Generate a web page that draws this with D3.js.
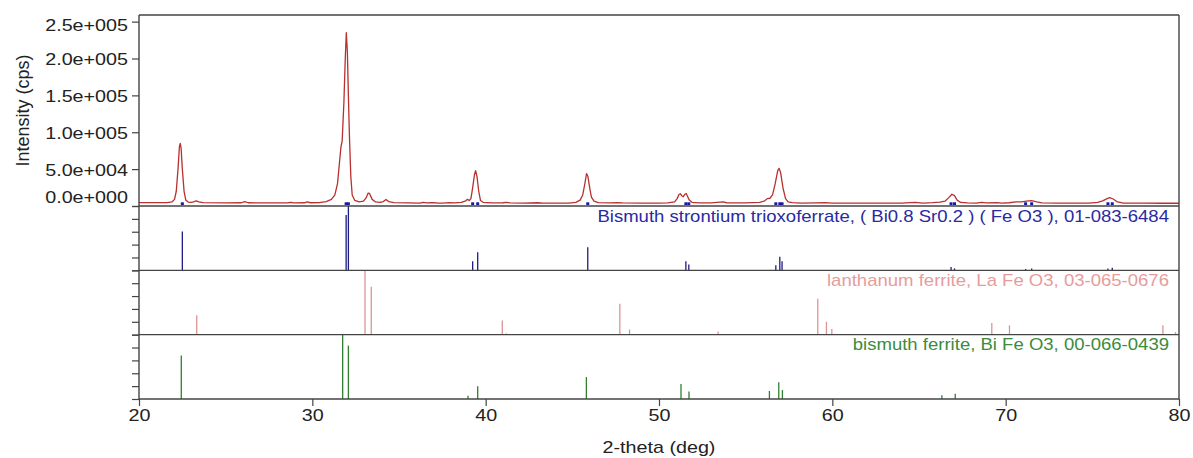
<!DOCTYPE html>
<html>
<head>
<meta charset="utf-8">
<script src="https://cdn.jsdelivr.net/npm/d3@7"></script>
<style>
  html, body { margin: 0; padding: 0; background: #fff; }
  svg { display: block; font-family: "Liberation Sans", Arial, sans-serif; }
</style>
</head>
<body>
<svg id="chart" width="1193" height="458"></svg>
<script>
// Measured XRD pattern: [2-theta (deg), intensity (cps)]
const pattern = [
  [20.0, 4600], [21.0, 4500], [21.6, 4600], [21.9, 5500], [22.05, 9000], [22.15, 20000],
  [22.25, 50000], [22.33, 80000], [22.38, 85000], [22.43, 78000], [22.5, 50000], [22.6, 20000],
  [22.7, 8000], [22.85, 5200], [23.0, 4800], [23.15, 5600], [23.3, 7000], [23.45, 5600],
  [23.7, 4500], [25.0, 4300], [25.9, 4400], [26.1, 6000], [26.3, 4400], [28.0, 4200],
  [28.55, 4300], [28.75, 5000], [28.95, 4300], [29.55, 4400], [29.7, 5500], [29.9, 4400],
  [30.4, 4600], [30.8, 6000], [31.1, 9000], [31.3, 15000], [31.45, 30000], [31.55, 55000],
  [31.65, 80000], [31.72, 88000], [31.82, 140000], [31.9, 200000], [31.96, 235000],
  [32.02, 210000], [32.08, 150000], [32.14, 95000], [32.22, 40000], [32.3, 15000],
  [32.45, 7500], [32.7, 5500], [32.95, 6500], [33.1, 11000], [33.22, 17500], [33.3, 17000],
  [33.45, 9000], [33.65, 5500], [33.9, 5000], [34.1, 6000], [34.25, 8800], [34.4, 6000],
  [34.7, 4600], [35.5, 4300], [36.2, 4000], [36.4, 4900], [36.6, 4200], [36.9, 4700],
  [37.2, 4100], [37.5, 4000], [37.9, 4600], [38.2, 4100], [38.6, 4800], [38.85, 7000],
  [38.95, 9000], [39.05, 7500], [39.15, 10000], [39.25, 25000], [39.35, 42000],
  [39.42, 48000], [39.5, 40000], [39.6, 20000], [39.7, 7500], [39.85, 5000], [40.3, 4300],
  [41.0, 4400], [41.2, 5000], [41.4, 4300], [42.2, 4000], [43.0, 4400], [43.3, 4000],
  [44.0, 3900], [44.8, 4000], [45.2, 5000], [45.45, 8000], [45.6, 15000], [45.72, 30000],
  [45.82, 44000], [45.9, 40000], [46.0, 25000], [46.1, 12000], [46.25, 6500], [46.5, 4500],
  [47.2, 4200], [47.6, 4700], [47.9, 4300], [49.0, 4000], [50.0, 4000], [50.5, 4200],
  [50.9, 5500], [51.05, 10000], [51.15, 15500], [51.23, 16700], [51.33, 13500],
  [51.4, 12600], [51.5, 16000], [51.57, 17000], [51.65, 13000], [51.75, 8000], [51.9, 5000],
  [52.3, 4300], [53.0, 4200], [53.7, 5500], [53.9, 4400], [55.0, 4200], [55.8, 4800],
  [56.1, 7000], [56.25, 10000], [56.4, 10500], [56.55, 15000], [56.7, 30000], [56.85, 48000],
  [56.93, 51000], [57.02, 45000], [57.15, 25000], [57.3, 10000], [57.45, 5500], [57.7, 4500],
  [58.2, 4000], [59.0, 4200], [59.6, 4600], [60.0, 4000], [61.0, 3900], [62.0, 4000],
  [63.0, 3900], [64.0, 3800], [64.5, 4600], [64.8, 4800], [65.2, 4000], [65.8, 4500],
  [66.2, 5200], [66.5, 6500], [66.7, 11000], [66.9, 15900], [67.05, 14000], [67.2, 8000],
  [67.4, 4800], [67.8, 4200], [68.3, 4000], [68.6, 5000], [68.9, 4300], [69.5, 4600],
  [69.8, 4000], [70.2, 4400], [70.6, 5500], [70.9, 5600], [71.2, 6500], [71.5, 7200],
  [71.8, 5600], [72.1, 4200], [73.0, 3900], [74.0, 3800], [74.8, 4000], [75.3, 5000],
  [75.6, 7000], [75.85, 10000], [76.0, 11300], [76.2, 9500], [76.45, 5500], [76.8, 4000],
  [78.0, 3800], [79.0, 3700], [79.5, 4000], [80.0, 3700]
];

// Reference card sticks: [2-theta (deg), relative intensity (%)]
const bismuthStrontiumSticks = [
  [22.5, 60.5], [31.95, 86], [32.08, 100], [39.25, 14.3], [39.54, 28], [45.89, 36],
  [51.55, 14], [51.72, 9], [56.74, 8], [56.97, 21], [57.1, 14], [66.85, 5], [67.05, 3],
  [71.15, 2], [71.5, 3], [75.9, 3], [76.15, 4]
];
const lanthanumSticks = [
  [23.33, 30], [33.04, 100], [33.4, 74.5], [40.96, 22], [41.2, 2], [47.74, 48], [48.3, 8],
  [53.41, 5], [59.16, 56], [59.66, 20], [59.97, 9], [69.2, 18], [70.22, 14.5], [79.07, 14.5],
  [79.8, 4]
];
const bismuthFerriteSticks = [
  [22.44, 67.7], [31.75, 100], [32.08, 83], [38.98, 5], [39.54, 20], [45.81, 34],
  [51.27, 23.5], [51.73, 11.5], [56.37, 12.5], [56.91, 26], [57.12, 14], [66.32, 6], [67.09, 8]
];

const phaseLabels = [
  "Bismuth strontium trioxoferrate, ( Bi0.8 Sr0.2 ) ( Fe O3 ), 01-083-6484",
  "lanthanum ferrite, La Fe O3, 03-065-0676",
  "bismuth ferrite, Bi Fe O3, 00-066-0439"
];

const xTicks = [20, 30, 40, 50, 60, 70, 80];
const yTicks = [0, 50000, 100000, 150000, 200000, 250000];
const stickTicks = [0, 20, 40, 60, 80, 100];

const xTitle = "2-theta (deg)";
const yTitle = "Intensity (cps)";

(function draw() {
  const svg = d3.select("#chart");
  const plotLeft = 139, plotRight = 1179, plotTop = 15, mainBottom = 206, plotBottom = 399;
  const panelH = (plotBottom - mainBottom) / 3;
  const frameColor = "#444";
  const textColor = "#222";
  const fontSize = 17;
  const axisStretch = 1.16;
  const labelStretch = 1.09;

  const x = d3.scaleLinear().domain([20, 80]).range([plotLeft, plotRight]);
  const y = d3.scaleLinear().domain([0, 259000]).range([mainBottom, plotTop]);

  // widen glyphs horizontally to the chart's typeface proportions
  function stretch(sel, k) {
    sel.each(function () {
      const w = this.getComputedTextLength();
      d3.select(this).attr("textLength", w * k).attr("lengthAdjust", "spacingAndGlyphs");
    });
  }

  function expFormat(v) {
    const [m, e] = v.toExponential(1).split("e");
    const sign = e[0] === "-" ? "-" : "+";
    const digits = e.replace(/[+-]/, "").padStart(3, "0");
    return m + "e" + sign + digits;
  }

  svg.append("rect").attr("width", 1193).attr("height", 458).attr("fill", "#fff");

  // ---- main pattern panel ----
  const yAxis = svg.append("g")
    .attr("transform", `translate(${plotLeft},0)`)
    .call(d3.axisLeft(y).tickValues(yTicks).tickFormat(expFormat).tickSize(7).tickPadding(4));
  yAxis.select(".domain").remove();
  yAxis.selectAll(".tick line").attr("stroke", frameColor).attr("stroke-width", 1.2);
  yAxis.selectAll(".tick text")
    .attr("fill", textColor)
    .style("font-size", fontSize + "px")
    .style("font-family", "'Liberation Sans', Arial, sans-serif")
    .attr("dy", (d) => d === 0 ? "-0.23em" : (d === 250000 ? "0.55em" : "0.38em"))
    .call(stretch, axisStretch);

  const line = d3.line().x((d) => x(d[0])).y((d) => y(d[1]));
  svg.append("path")
    .datum(pattern)
    .attr("fill", "none")
    .attr("stroke", "#b8302f")
    .attr("stroke-width", 1.3)
    .attr("stroke-linejoin", "round")
    .attr("d", line);

  // phase position markers along the pattern baseline
  svg.append("g").selectAll("rect")
    .data(bismuthStrontiumSticks)
    .join("rect")
    .attr("x", (d) => x(d[0]) - 1.5)
    .attr("y", mainBottom - 3.7)
    .attr("width", 3)
    .attr("height", 2.8)
    .attr("fill", "#1a1a9c");

  // ---- stick panels ----
  const panels = [
    { sticks: bismuthStrontiumSticks, label: phaseLabels[0], stroke: "#1c1c86", text: "#2a2aa2" },
    { sticks: lanthanumSticks, label: phaseLabels[1], stroke: "#dc9494", text: "#e79c9c" },
    { sticks: bismuthFerriteSticks, label: phaseLabels[2], stroke: "#2f7f2f", text: "#3b8c3b" }
  ];

  panels.forEach((p, i) => {
    const pTop = mainBottom + i * panelH;
    const pBottom = pTop + panelH;
    const yp = d3.scaleLinear().domain([0, 100]).range([pBottom, pTop]);
    const g = svg.append("g");

    const ax = g.append("g")
      .attr("transform", `translate(${plotLeft},0)`)
      .call(d3.axisLeft(yp).tickValues(stickTicks).tickFormat("").tickSize(7));
    ax.select(".domain").remove();
    ax.selectAll(".tick line").attr("stroke", frameColor).attr("stroke-width", 1.2);

    g.selectAll("line.stick")
      .data(p.sticks)
      .join("line")
      .attr("class", "stick")
      .attr("x1", (d) => x(d[0])).attr("x2", (d) => x(d[0]))
      .attr("y1", yp(0)).attr("y2", (d) => yp(d[1]))
      .attr("stroke", p.stroke)
      .attr("stroke-width", 1.3);

    g.append("text")
      .attr("x", 1169)
      .attr("y", pTop + 15.5)
      .attr("text-anchor", "end")
      .attr("fill", p.text)
      .style("font-size", fontSize + "px")
      .text(p.label)
      .call(stretch, labelStretch);
  });

  // ---- frame and panel separators ----
  const frame = svg.append("g").attr("stroke", frameColor).attr("stroke-width", 1.4).attr("fill", "none");
  frame.append("line").attr("x1", plotLeft).attr("x2", plotRight).attr("y1", plotTop).attr("y2", plotTop);
  frame.append("line").attr("x1", plotLeft).attr("x2", plotLeft).attr("y1", plotTop).attr("y2", plotBottom);
  frame.append("line").attr("x1", plotRight).attr("x2", plotRight).attr("y1", plotTop).attr("y2", plotBottom);
  [0, 1, 2, 3].forEach((k) => {
    const yy = mainBottom + k * panelH;
    frame.append("line").attr("x1", plotLeft).attr("x2", plotRight).attr("y1", yy).attr("y2", yy);
  });

  // ---- x axis ----
  const xAxis = svg.append("g")
    .attr("transform", `translate(0,${plotBottom})`)
    .call(d3.axisBottom(x).tickValues(xTicks).tickFormat(d3.format("d")).tickSize(7).tickPadding(3));
  xAxis.select(".domain").remove();
  xAxis.selectAll(".tick line").attr("stroke", frameColor).attr("stroke-width", 1.2);
  xAxis.selectAll(".tick text")
    .attr("fill", textColor)
    .style("font-size", fontSize + "px")
    .style("font-family", "'Liberation Sans', Arial, sans-serif")
    .call(stretch, axisStretch);

  svg.append("text")
    .attr("x", (plotLeft + plotRight) / 2)
    .attr("y", 453)
    .attr("text-anchor", "middle")
    .attr("fill", textColor)
    .style("font-size", fontSize + "px")
    .text(xTitle)
    .call(stretch, axisStretch);

  svg.append("text")
    .attr("transform", `translate(29,${(plotTop + mainBottom) / 2}) rotate(-90)`)
    .attr("text-anchor", "middle")
    .attr("fill", textColor)
    .style("font-size", "18px")
    .text(yTitle);
})();
</script>
</body>
</html>
